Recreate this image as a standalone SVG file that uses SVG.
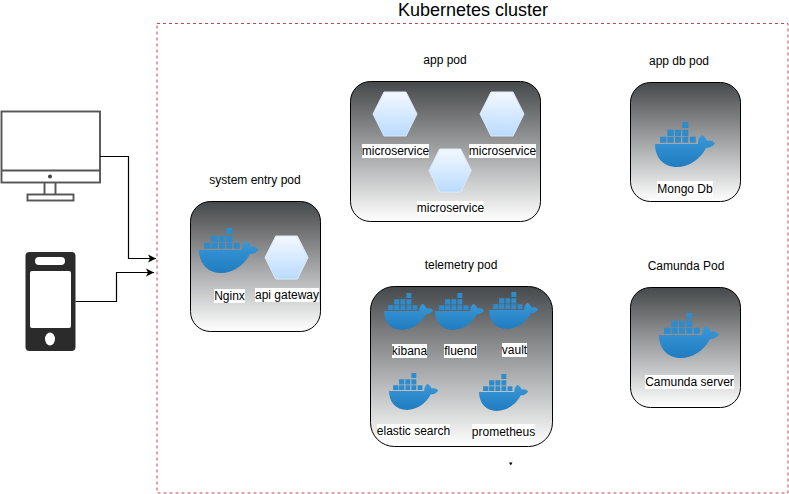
<svg xmlns="http://www.w3.org/2000/svg" xmlns:xlink="http://www.w3.org/1999/xlink" width="789" height="494" viewBox="0 0 789 494">
<style>
text{font-family:"Liberation Sans",Arial,sans-serif;font-size:12px;fill:#000;text-anchor:middle}
.card{fill:url(#cardGrad);stroke:#000;stroke-width:1}
.lb{fill:#fff}
.conn{fill:none;stroke:#000;stroke-width:1.200}
.scr{fill:none;stroke:#555;stroke-width:1.900}
</style>
<defs>
<linearGradient id="cardGrad" x1="0" y1="0" x2="0" y2="1"><stop offset="0" stop-color="#46494b"/><stop offset="1" stop-color="#ffffff"/></linearGradient>
<linearGradient id="hexGrad" x1="0" y1="0" x2="0" y2="1"><stop offset="0" stop-color="#f4f8ff"/><stop offset="1" stop-color="#b9dbff"/></linearGradient>
<linearGradient id="whaleGrad" x1="0" y1="0" x2="0" y2="1"><stop offset="0" stop-color="#3a98d8"/><stop offset="1" stop-color="#1f7cc0"/></linearGradient>
<marker id="arr" markerWidth="9" markerHeight="9" refX="8" refY="4.500" orient="auto" markerUnits="userSpaceOnUse"><path d="M0 .5L8 4.500L0 8.500L2 4.500Z" fill="#000"/></marker>
<polygon id="hex" points="11,0 33,0 44,22 33,44 11,44 0,22" fill="url(#hexGrad)" stroke="#dbe9f7" stroke-width="1"/>
<g id="whale">
<path fill="url(#whaleGrad)" d="M0 22H43C43 18 44 15 47 13C50 15 51.500 17 52 19C55 18 58 19 60 21.500C57 25 54 26 51 26C45 38 33 45 22 45C8 45 0 35 0 22Z"/>
<path fill="#2f8ccc" d="M27.300 0h6v6h-6zM12.300 7.700h6.500v6.300h-6.500zM20 7.700h6v6.300h-6zM27.300 7.700h6v6.300h-6zM5 14.800h6.500v6h-6.500zM12.300 14.800h6.500v6h-6.500zM20 14.800h6v6h-6zM27.300 14.800h6v6h-6zM34.800 14.800h6v6h-6z"/>
</g>
</defs>
<text x="473" y="16" style="font-size:18px">Kubernetes cluster</text>
<rect id="cluster" x="157" y="23.500" width="631" height="469.500" fill="none" stroke="#c9454f" stroke-width="1" stroke-dasharray="3 3"/>
<g id="computer">
<rect class="scr" x="1.500" y="111.500" width="98.500" height="71"/>
<path class="scr" d="M1.500 170.500H100M44.500 183V194.500M55.500 183V194.500"/>
<rect class="scr" x="27.500" y="194.500" width="46" height="6"/>
<circle cx="50" cy="176.500" r="2" fill="#444"/>
</g>
<g id="phone">
<rect x="25.500" y="252" width="50" height="99" rx="4" fill="#2b2b2b"/>
<rect x="35" y="257" width="30" height="8" rx="4" fill="#fff"/>
<rect x="30" y="271" width="41" height="57" rx="2" fill="#fff"/>
<ellipse cx="50" cy="339" rx="5" ry="6.500" fill="#fff"/>
</g>
<g id="connectors">
<path class="conn" marker-end="url(#arr)" d="M100 156.500H128.500V258.500H156"/>
<path class="conn" marker-end="url(#arr)" d="M75.500 301.500H116.500V272.500H154"/>
</g>
<g id="system-entry-pod">
<text x="255" y="184">system entry pod</text>
<rect class="card" x="190.500" y="201.500" width="130" height="130" rx="20"/>
<use xlink:href="#whale" href="#whale" x="199" y="228"/>
<use xlink:href="#hex" href="#hex" transform="translate(265 236) scale(.98)"/>
<rect class="lb" x="214" y="289" width="31" height="14"/><text x="229.500" y="300">Nginx</text>
<rect class="lb" x="255" y="288" width="64" height="14"/><text x="287" y="299">api gateway</text>
</g>
<g id="app-pod">
<text x="445" y="64">app pod</text>
<rect class="card" x="350.500" y="81.500" width="190" height="140" rx="20"/>
<use xlink:href="#hex" href="#hex" x="373" y="92"/>
<use xlink:href="#hex" href="#hex" x="480" y="92"/>
<use xlink:href="#hex" href="#hex" transform="translate(429 149) scale(.96 .98)"/>
<rect class="lb" x="362" y="144" width="67" height="14"/><text x="395.500" y="155">microservice</text>
<rect class="lb" x="469" y="144" width="67" height="14"/><text x="502.500" y="155">microservice</text>
<rect class="lb" x="417" y="201" width="67" height="14"/><text x="450.500" y="212">microservice</text>
</g>
<g id="app-db-pod">
<text x="679" y="65">app db pod</text>
<rect class="card" x="630.500" y="82.500" width="110" height="119" rx="20"/>
<use xlink:href="#whale" href="#whale" x="655" y="122"/>
<rect class="lb" x="657" y="181" width="56" height="16"/><text x="685" y="193">Mongo Db</text>
</g>
<g id="telemetry-pod">
<text x="461" y="269">telemetry pod</text>
<rect class="card" x="370.500" y="286.500" width="182" height="160" rx="24"/>
<use xlink:href="#whale" href="#whale" transform="translate(384 293) scale(.82)"/>
<use xlink:href="#whale" href="#whale" transform="translate(435 293) scale(.82)"/>
<use xlink:href="#whale" href="#whale" transform="translate(489 292) scale(.82)"/>
<use xlink:href="#whale" href="#whale" transform="translate(389 373) scale(.82)"/>
<use xlink:href="#whale" href="#whale" transform="translate(479 374) scale(.82)"/>
<rect class="lb" x="392" y="344" width="35" height="14"/><text x="409.500" y="355">kibana</text>
<rect class="lb" x="444" y="344" width="33" height="14"/><text x="460.500" y="355">fluend</text>
<rect class="lb" x="502" y="343" width="25" height="14"/><text x="514.500" y="354">vault</text>
<rect class="lb" x="377" y="424" width="73" height="13"/><text x="413.500" y="435">elastic search</text>
<rect class="lb" x="472" y="424" width="63" height="14"/><text x="503.500" y="436">prometheus</text>
</g>
<g id="camunda-pod">
<text x="686" y="270">Camunda Pod</text>
<rect class="card" x="630.500" y="287.500" width="110" height="120" rx="20"/>
<use xlink:href="#whale" href="#whale" x="659" y="313"/>
<rect class="lb" x="645" y="375" width="89" height="14"/><text x="689.500" y="386">Camunda server</text>
</g>
<path id="mark" d="M509 462.500L512.500 462.500L510.800 465.500Z" fill="#000"/>
</svg>
